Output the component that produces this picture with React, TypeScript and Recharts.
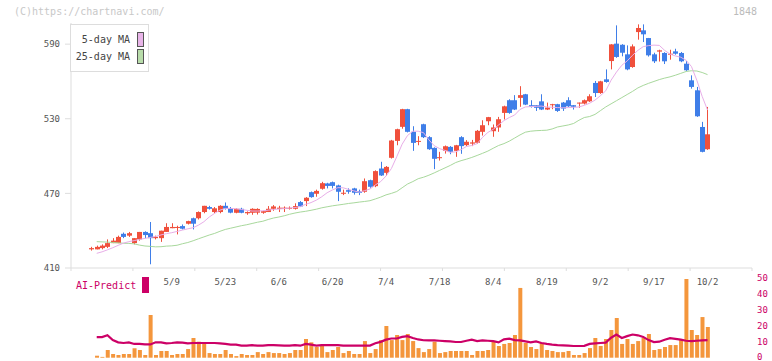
import { ComposedChart, Bar, Line, XAxis, YAxis } from 'recharts';

// daily OHLC, 116 sessions (index 15 = 5/9 ... index 115 = 10/2)
const OPEN = [
  425, 425, 426, 427, 430, 430, 437.5, 436, 430, 433,
  439, 438, 434, 434, 439, 442, 442.5, 443.7, 445.6, 450,
  450, 455, 459, 455, 455, 460, 458, 454.4, 457.6, 454,
  454.4, 454.5, 454.4, 455, 457.6, 457.5, 457.5, 457.6, 457.6, 463,
  463.8, 471, 469.7, 473.7, 478, 479, 476.4, 469.7, 472.6, 474,
  471.8, 471.3, 480.6, 475.8, 490, 486.5, 498.6, 512.2, 523.5, 537.7,
  519.5, 511.7, 525.6, 515.2, 506.6, 498.3, 504.2, 507.4, 504.2, 515.2,
  508.8, 510, 510.7, 519.5, 528, 520, 523, 534.7, 544.9, 544.9,
  546.8, 549.7, 540.9, 540.9, 544, 537.4, 541.2, 541.7, 543, 544.9,
  540.9, 542.5, 542.2, 544, 558.8, 550.7, 561.7, 576.4, 590.4, 589.5,
  581.8, 571.6, 599.7, 601.1, 594.9, 581.8, 584, 582.9, 581.5, 584.2,
  582.9, 574.3, 560.9, 552.9, 523.4, 505.5,
];
const HIGH = [
  427, 428, 429, 433, 434, 436, 438.5, 439, 434, 439,
  439.5, 447, 436, 440, 446, 446, 444, 445, 448, 450.5,
  455.5, 460, 460, 459, 460.5, 462.7, 459, 458, 458.4, 455.5,
  458, 458, 456, 459.8, 460.6, 460, 459.5, 459.5, 462, 463.8,
  467, 471.5, 473, 479.3, 478.5, 479.5, 477, 473, 474, 474.5,
  473, 482, 481, 488.5, 495.4, 492, 513, 522, 538, 538,
  524, 516, 526, 516, 507, 503.4, 508.5, 508, 509, 516,
  512.8, 513, 521, 528.8, 531.5, 525.4, 531.5, 540.5, 545.7, 549,
  556.2, 550, 544.9, 541, 549.7, 543, 542, 542, 543.5, 547.3,
  541, 543, 545.5, 549.7, 560.4, 560.5, 569.7, 590, 605.1, 590,
  589, 589.8, 605.9, 605.9, 595, 583.1, 585.5, 583.5, 585.5, 586.3,
  583.7, 576.4, 564.9, 555.6, 527.5, 539.5,
];
const LOW = [
  424, 425, 425, 426, 430, 430, 434, 435, 429, 432,
  434, 413, 433, 431, 439, 442, 437, 441, 445, 441,
  449, 454, 457, 454, 454, 457, 454, 454, 454, 452.8,
  452.8, 453, 453.6, 455, 456, 455, 455, 457, 457, 459,
  459.8, 466.5, 467.3, 473, 474, 474, 463.8, 468.6, 469.7, 469,
  468.6, 470.5, 474.5, 475, 484, 484, 498, 508.7, 522, 519,
  504.2, 508.7, 514.5, 505, 489.5, 496.4, 502, 501.5, 499.4, 501.8,
  508, 508, 510, 516.5, 524.8, 515.5, 519.5, 529.4, 534, 537,
  539.6, 541, 539, 536.3, 537, 537, 537.7, 535.5, 536.3, 539.5,
  537.4, 538.8, 541.5, 543.5, 547.5, 550, 559, 569.7, 579, 580.2,
  569, 571, 593.6, 591.7, 580, 574.8, 576, 574, 577.5, 581.5,
  575.5, 568.5, 554.2, 531.5, 503, 505,
];
const CLOSE = [
  426, 427, 428, 430, 432, 435, 435, 438, 434, 439,
  436.5, 434, 435, 440, 443, 443, 443, 441.6, 447.7, 445.6,
  455, 460, 457.6, 458, 460, 457.6, 454.5, 457.6, 454.4, 455,
  457.6, 457.5, 455.7, 457.6, 459.5, 458.5, 458.5, 458.4, 459.8, 459.5,
  466.5, 467, 472, 478.2, 476, 476, 471.3, 470.5, 471.3, 470.5,
  470.5, 479.8, 475.3, 487.9, 484.4, 491.3, 512.5, 521.6, 537.7, 519.5,
  510.6, 512.2, 515.2, 505.5, 497.8, 499.1, 507.9, 503.4, 508.7, 508,
  511.5, 511, 520.3, 524.8, 531.3, 523, 529.6, 540, 534.7, 537.4,
  549, 541.4, 539.6, 538.8, 537.4, 539, 541.7, 536.3, 538.2, 540,
  539.6, 543, 544.9, 548.1, 550.7, 560.1, 559.6, 589.8, 579.7, 583.1,
  569.7, 588.2, 603, 597.9, 581, 576.2, 585, 576.2, 582.3, 582.3,
  576.2, 569, 555.6, 532, 503.4, 517.5,
];

const MA5 = [
  null, 421.8, 423, 424.6, 426.3, 428.2, 430, 431.2, 432, 433,
  433.8, 434.6, 435.3, 436.6, 437.6, 438.4, 439.4, 440.5, 441.5, 442.4,
  444.5, 447.2, 451, 453.9, 456.5, 457.9, 457.9, 457.6, 457.1, 456.4,
  455.8, 455.8, 456, 456.5, 457.1, 457.4, 457.8, 458.2, 458.6, 459.4,
  461.2, 462.6, 464.6, 467.3, 470.5, 472.8, 474.6, 474.5, 473.2, 472,
  471, 472.2, 473.5, 476.8, 479.5, 484, 490, 499.5, 509.5, 516.5,
  520, 520, 518.8, 513, 508.3, 506, 504.5, 503, 503.4, 505.2,
  507.7, 508.5, 510, 515, 519, 521.5, 525, 528.5, 531, 533,
  537.5, 539.5, 539.8, 540, 540.2, 539.5, 539.3, 539, 538.8, 539,
  539.2, 539.5, 540.8, 542.5, 545, 548.5, 552.5, 561, 567.5, 573,
  576.5, 581, 585, 588, 588.8, 589.2, 589, 585, 582, 580.5,
  579.5, 577, 572, 561, 548, 537,
];
const MA25 = [
  null, 431.2, 431, 430.8, 430.5, 430.2, 429.9, 429.8, 429.4, 428.4,
  427.7, 427.4, 427, 427.1, 427.6, 427.8, 428.3, 429.5, 430.5, 431.9,
  433.5, 435, 436.5, 437.8, 439.5, 441, 442, 443, 444, 444.8,
  445.8, 446.8, 447.6, 449, 450.2, 451, 452, 453.2, 454.2, 455,
  455.6, 456.4, 457.3, 458.4, 459.2, 460, 460.6, 461.2, 461.9, 462.4,
  463, 463.5, 464.1, 465.5, 467, 468.8, 470, 471.5, 474.5, 477.5,
  479.5, 481.8, 483, 484.6, 486.5, 488.5, 490.5, 492.5, 494.8, 496.3,
  497.5, 498.9, 500.5, 502.2, 504, 506.3, 508.5, 510, 512, 514.5,
  517, 519.2, 520, 520.4, 520.6, 520.8, 521.8, 523.4, 524.2, 525,
  526.2, 528.8, 531, 531.8, 533.5, 536.5, 539.5, 542, 544.5, 547,
  549.5, 552, 554.8, 556.8, 558.5, 560, 561.5, 562.7, 563.7, 565,
  566.5, 568, 568.6, 568.4, 567.2, 565.5,
];

// AI-Predict panel
const AI_BARS = [
  null, 1.25, 0.5, 4.8, 2.3, 1.7, 2.3, 2.3, 5.9, 4.8,
  1.7, 26.7, 1.7, 4.2, 4.2, 1.7, 2.3, 2.3, 5.4, 12.3,
  10, 8.6, 2.9, 2.3, 2.3, 4.8, 2.3, 1, 2.3, 1.7,
  1.7, 3.5, 2.3, 3.5, 2.9, 2.9, 2.3, 2.9, 4.8, 4.8,
  11.7, 9.6, 6.7, 7.9, 3.5, 4.8, 6.7, 2.9, 4.2, 2.3,
  2.3, 10.4, 2.9, 5.4, 11, 19.8, 11, 14.2, 11, 14.8,
  10.4, 6, 3.5, 5.4, 10, 2.9, 3.5, 4.2, 4.2, 4.2,
  4.2, 1.7, 4.2, 4.2, 4.8, 10, 7.3, 8.6, 9.2, 14.2,
  43.6, 9.2, 6.7, 5.4, 9.2, 4.8, 4.2, 3.5, 3.5, 4.2,
  1.7, 1.7, 2.9, 6, 12.3, 7.3, 11.7, 17.3, 24.8, 8.6,
  11.7, 8.6, 10.4, 12.3, 14.8, 4.8, 5.4, 6.7, 7.9, 7.9,
  11, 49.2, 17.3, 14.2, 25.4, 19.2,
];
const AI_LINE = [
  null, 12.9, 12.9, 14, 11, 9.6, 9.2, 9.6, 8.6, 8.6,
  8.3, 8.3, 9.6, 9.6, 9, 9.2, 9.6, 9.4, 9, 9.2,
  9.2, 9.2, 9.2, 9.2, 9, 8.6, 8.2, 8.2, 7.6, 7.5,
  7.9, 7.5, 7.5, 7.9, 7.9, 7.7, 7.5, 7.6, 7.9, 7.5,
  8.6, 8.2, 7.5, 7.9, 7.9, 7.9, 7.9, 7.5, 7.5, 7.5,
  7.5, 7.5, 7.6, 9, 9.9, 11.3, 12, 12, 13, 13.5,
  12.3, 11.4, 10.9, 10.8, 10.8, 10.6, 10.4, 10.2, 9.8, 9.8,
  10.6, 11.3, 10.4, 10.8, 10.6, 10.4, 9.6, 11.5, 11.9, 11,
  10.8, 10.2, 9.6, 10.2, 9.2, 8.6, 8.2, 7.9, 7.7, 7.5,
  7.3, 7.3, 7.4, 8.6, 9, 9.2, 9.4, 12.5, 14.5, 12.3,
  13.5, 14.5, 14, 13, 11, 9.8, 10, 11.2, 12.2, 11.8,
  11.3, 10.6, 10.4, 10.6, 10.8, 11,
];

const DATE_TICKS = [15, 25, 35, 45, 55, 65, 75, 85, 95, 105, 115];
const DATE_LABELS = ['5/9', '5/23', '6/6', '6/20', '7/4', '7/18', '8/4', '8/19', '9/2', '9/17', '10/2'];
const PRICE_TICKS = [410, 470, 530, 590];
const AI_TICKS = [0, 10, 20, 30, 40, 50];

const X_MIN = -3.8;
const X_MAX = 123.3;
const GRID_TICKS = Array.from({ length: 12 }, (_, k) => X_MIN + (k * (X_MAX - X_MIN)) / 11);

const MONO = '"DejaVu Sans Mono", "Liberation Mono", monospace';
const UP = '#f0503c';
const DOWN = '#3f7ee8';
const AXIS = '#dddddd';
const MAGENTA = '#cc0066';

const rows = OPEN.map((o, i) => ({
  i,
  open: o,
  high: HIGH[i],
  low: LOW[i],
  close: CLOSE[i],
  range: [LOW[i], HIGH[i]],
  ma5: MA5[i],
  ma25: MA25[i],
  bar: AI_BARS[i],
  ai: AI_LINE[i],
}));

function Candle(props: any) {
  const { x, y, width, height, payload } = props;
  if (x == null || y == null) return null;
  const { open, close, high, low } = payload;
  const top = Math.min(y, y + height);
  const h = Math.abs(height);
  const py = (p: number) => top + ((high - p) / (high - low)) * h;
  const color = close >= open ? UP : DOWN;
  const cx = Math.round(x + width / 2) + 0.5;
  const bodyTop = py(Math.max(open, close));
  const bodyH = Math.max(1, py(Math.min(open, close)) - bodyTop);
  return (
    <g>
      <line x1={cx} x2={cx} y1={top} y2={top + h} stroke={color} strokeWidth={1} />
      <rect x={cx - 2.5} y={bodyTop} width={5} height={bodyH} fill={color} />
    </g>
  );
}

// date labels sit just under the main axis, inside the lower panel
function DateTick(props: any) {
  const { x, payload } = props;
  const label = DATE_LABELS[DATE_TICKS.indexOf(payload.value)] ?? '';
  return (
    <text x={x} y={15} textAnchor="middle" fontSize={9} fill="#555" fontFamily={MONO}>
      {label}
    </text>
  );
}

function AiTick(props: any) {
  const { y, payload } = props;
  return (
    <text x={757} y={Math.min(y + 3, 89.5)} fontSize={9} fill={MAGENTA} fontFamily={MONO}>
      {payload.value}
    </text>
  );
}

function Swatch({ color, top }: { color: string; top: number }) {
  return (
    <div
      style={{
        position: 'absolute',
        left: 66,
        top,
        width: 5,
        height: 13,
        background: color,
        border: '1px solid #555',
      }}
    />
  );
}

export default function App() {
  return (
    <div
      style={{
        position: 'absolute',
        left: 0,
        top: 0,
        width: 772,
        height: 361,
        background: '#fff',
        fontFamily: MONO,
        overflow: 'hidden',
      }}
    >
      <ComposedChart
        width={772}
        height={275}
        data={rows}
        margin={{ top: 23, right: 20, bottom: 2, left: 0 }}
      >
        <XAxis
          dataKey="i"
          type="number"
          domain={[X_MIN, X_MAX]}
          allowDataOverflow
          ticks={GRID_TICKS}
          interval={0}
          tick={<g />}
          height={5}
          tickSize={3}
          axisLine={{ stroke: AXIS }}
          tickLine={{ stroke: AXIS }}
        />
        <YAxis
          type="number"
          domain={[410, 607]}
          allowDataOverflow
          ticks={PRICE_TICKS}
          interval={0}
          width={71}
          tickSize={6}
          tickMargin={5}
          axisLine={{ stroke: AXIS }}
          tickLine={{ stroke: AXIS }}
          tick={{ fontSize: 9, fill: '#555', fontFamily: MONO }}
        />
        <Line dataKey="ma25" stroke="#a8d89c" strokeWidth={1} dot={false} isAnimationActive={false} />
        <Line dataKey="ma5" stroke="#e8aee8" strokeWidth={1} dot={false} isAnimationActive={false} />
        <Bar dataKey="range" barSize={5} shape={Candle} isAnimationActive={false} />
      </ComposedChart>

      <div style={{ position: 'absolute', top: 270, left: 0 }}>
        <ComposedChart
          width={772}
          height={91}
          data={rows}
          margin={{ top: 7.7, right: 0, bottom: 3.3, left: 71 }}
        >
          <XAxis
            dataKey="i"
            type="number"
            orientation="top"
            mirror
            domain={[X_MIN, X_MAX]}
            allowDataOverflow
            ticks={DATE_TICKS}
            interval={0}
            axisLine={false}
            tickLine={false}
            height={0.01}
            tick={<DateTick />}
          />
          <YAxis
            orientation="right"
            type="number"
            domain={[0, 50]}
            ticks={AI_TICKS}
            interval={0}
            width={20}
            axisLine={false}
            tickLine={false}
            tick={<AiTick />}
          />
          <Bar dataKey="bar" barSize={4} fill="#f4963c" isAnimationActive={false} />
          <Line dataKey="ai" stroke={MAGENTA} strokeWidth={2.2} dot={false} isAnimationActive={false} />
        </ComposedChart>
      </div>

      <div style={{ position: 'absolute', left: 14, top: 6, fontSize: 10, lineHeight: '12px', color: '#c8c8c8' }}>
        (C)https://chartnavi.com/
      </div>
      <div style={{ position: 'absolute', right: 15, top: 6, fontSize: 10, lineHeight: '12px', color: '#bbb' }}>
        1848
      </div>

      <div
        style={{
          position: 'absolute',
          left: 70,
          top: 24,
          width: 77,
          height: 46,
          background: '#fff',
          border: `1px solid ${AXIS}`,
          fontSize: 10,
          color: '#444',
        }}
      >
        <div style={{ position: 'absolute', right: 18, top: 9, lineHeight: '12px' }}>5-day MA</div>
        <div style={{ position: 'absolute', right: 18, top: 26, lineHeight: '12px' }}>25-day MA</div>
        <Swatch color="#e8b4e8" top={7} />
        <Swatch color="#b8dcaa" top={24} />
      </div>

      <div style={{ position: 'absolute', left: 76, top: 280, fontSize: 10, lineHeight: '12px', color: MAGENTA }}>
        AI-Predict
      </div>
      <div style={{ position: 'absolute', left: 142, top: 277, width: 7, height: 16, background: MAGENTA }} />
    </div>
  );
}
